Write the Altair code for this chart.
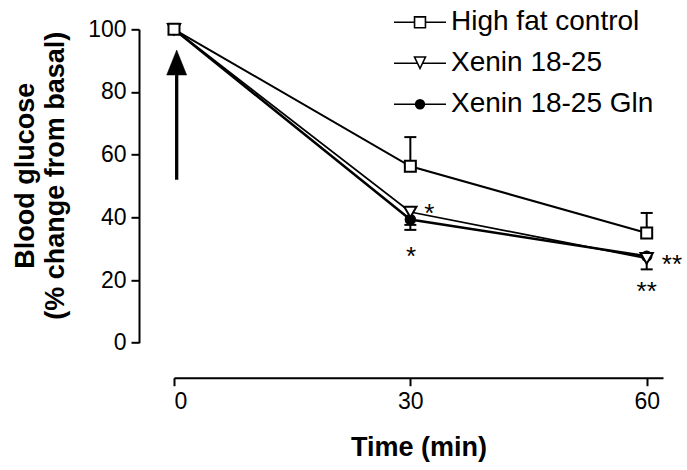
import altair as alt
import pandas as pd

# ---------------- data ----------------
time_min = [0, 30, 60]
series_names = ["High fat control", "Xenin 18-25", "Xenin 18-25 Gln"]
hfc_mean = [100, 56.3, 35.0]
hfc_sem = [0, 9.3, 6.4]
xen_mean = [100, 41.7, 26.9]
xen_sem = [0, 5.7, 3.5]
gln_mean = [100, 39.3, 27.6]
gln_sem = [0, 1.7, 0.0]
err_direction = [1, -1, -1]  # control errors drawn up, treatments drawn down

x_ticks = [0, 30, 60]
y_ticks = [0, 20, 40, 60, 80, 100]

annot_time = [32.4, 30.1, 63.2, 60.0]
annot_value = [43.3, 29.6, 27.0, 18.4]
annot_text = ["*", "*", "**", "**"]

arrow_time = [0.34]
arrow_start = [52.0]
arrow_neck = [85.4]
arrow_head = [89.4]

# ---------------- tables ----------------
means = [hfc_mean, xen_mean, gln_mean]
sems = [hfc_sem, xen_sem, gln_sem]
rows = []
for s, name in enumerate(series_names):
    for i, t in enumerate(time_min):
        m = means[s][i]
        e = sems[s][i]
        rows.append({"series": name, "time": t, "value": m,
                     "value2": m + err_direction[s] * e, "sem": e})
df = pd.DataFrame(rows)
annot_df = pd.DataFrame({"time": annot_time, "value": annot_value, "label": annot_text})
arrow_df = pd.DataFrame({"time": arrow_time, "value": arrow_start,
                         "value2": arrow_neck, "head": arrow_head})

FONT = "Liberation Sans"
x_scale = alt.Scale(domain=[0, 62.07], nice=False, zero=False)
y_scale = alt.Scale(domain=[0, 100], nice=False)
x_axis = alt.Axis(values=x_ticks, offset=35, grid=False, domainWidth=2, domainColor="black",
                  tickWidth=2, tickSize=8, tickColor="black", labelFont=FONT, labelFontSize=23,
                  labelColor="black", labelPadding=5, title="Time (min)", titleFont=FONT,
                  titleFontSize=27, titleFontWeight="bold", titleColor="black", titlePadding=21)
y_axis = alt.Axis(values=y_ticks, offset=35, grid=False, domainWidth=2, domainColor="black",
                  tickWidth=2, tickSize=8, tickColor="black", labelFont=FONT, labelFontSize=23,
                  labelColor="black", labelPadding=5,
                  title=["Blood glucose", "(% change from basal)"], titleFont=FONT,
                  titleFontSize=27, titleFontWeight="bold", titleColor="black", titlePadding=18,
                  titleLineHeight=30, titleY=146)

X = alt.X("time:Q", scale=x_scale, axis=x_axis)
Y = alt.Y("value:Q", scale=y_scale, axis=y_axis)

base = alt.Chart(df)

layers = []
line_widths = [2, 1.8, 2.5]
for name, lw in zip(series_names, line_widths):
    layers.append(base.transform_filter(alt.datum.series == name)
                  .mark_line(color="black", strokeWidth=lw)
                  .encode(x=X, y=Y))

err = base.transform_filter(alt.datum.sem > 0)
layers.append(err.mark_rule(color="black", strokeWidth=2)
              .encode(x=X, y=Y, y2=alt.Y2("value2:Q")))
layers.append(err.mark_tick(color="black", orient="horizontal", size=12, thickness=2, opacity=1)
              .encode(x=X, y=alt.Y("value2:Q", scale=y_scale, axis=y_axis)))

marker_style = {
    "Xenin 18-25 Gln": dict(shape="circle", size=90, fill="black"),
    "Xenin 18-25": dict(shape="triangle-down", size=150, fill="white"),
    "High fat control": dict(shape="square", size=121, fill="white"),
}
for name in ["Xenin 18-25 Gln", "Xenin 18-25", "High fat control"]:
    st = marker_style[name]
    layers.append(base.transform_filter(alt.datum.series == name)
                  .mark_point(shape=st["shape"], size=st["size"], filled=True, fill=st["fill"],
                              stroke="black", strokeWidth=2, opacity=1)
                  .encode(x=X, y=Y))

# legend-only layer (nothing drawn), symbols = line + marker drawn as stroked paths
def ring(r):
    return f"M{-r},0A{r},{r},0,1,1,{r},0A{r},{r},0,1,1,{-r},0Z"

legend_paths = [
    "M-1,0L-0.21,0M0.21,0L1,0M-0.21,-0.21L0.21,-0.21L0.21,0.21L-0.21,0.21Z",
    "M-1,0L-0.1,0M0.1,0L1,0M-0.21,-0.24L0.21,-0.24L0,0.2Z",
    "M-1,0L-0.19,0M0.19,0L1,0" + ring(0.17) + ring(0.12) + ring(0.07) + ring(0.025),
]
legend = alt.Legend(title=None, orient="none", legendX=219, legendY=-34, padding=0,
                    labelFont=FONT, labelFontSize=28, labelColor="black", labelLimit=400,
                    labelOffset=4, symbolSize=2704, symbolStrokeWidth=1.6,
                    symbolStrokeColor="black", symbolFillColor="white", symbolOpacity=1,
                    rowPadding=-6)
layers.append(base.transform_filter("false")
              .mark_point(filled=False, color="black", strokeWidth=1.6, opacity=1)
              .encode(x=X, y=Y,
                      shape=alt.Shape("series:N",
                                      scale=alt.Scale(domain=series_names, range=legend_paths),
                                      legend=legend)))

# significance stars
layers.append(alt.Chart(annot_df).mark_text(font=FONT, fontSize=26, color="black",
                                              baseline="alphabetic", dy=15, align="center")
              .encode(x=X, y=Y, text="label:N"))

# arrow
layers.append(alt.Chart(arrow_df).mark_rule(color="black", strokeWidth=3.3)
              .encode(x=X, y=Y, y2=alt.Y2("value2:Q")))
layers.append(alt.Chart(arrow_df).mark_point(shape="M0,-1.25L1,1.25L-1,1.25Z", size=400,
                                              filled=True, fill="black", stroke="black",
                                              strokeWidth=0.5, opacity=1)
              .encode(x=X, y=alt.Y("head:Q", scale=y_scale, axis=y_axis)))

chart = alt.layer(*layers).properties(
    width=489, height=313.4,
    autosize=alt.AutoSizeParams(type="none"),
    padding={"left": 174, "top": 29.3, "right": 24, "bottom": 127.3},
    background="white",
).configure_view(stroke=None)

chart.save("out.html", embed_options={"renderer": "svg", "actions": False})
